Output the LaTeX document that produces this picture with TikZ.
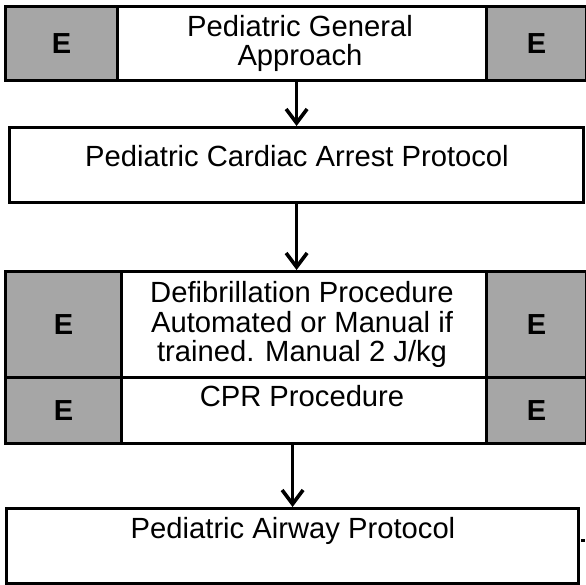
\documentclass[tikz,border=0pt]{standalone}
\usepackage{fontspec}
\setmainfont{Liberation Sans}
\usetikzlibrary{arrows.meta,positioning}
\definecolor{egray}{HTML}{A6A6A6}
\tikzset{
  cell/.style={draw, line width=3.2pt, inner sep=0pt, anchor=north west, fill=white},
  ecell/.style={cell, fill=egray, font=\bfseries\fontsize{29}{29}\selectfont},
  txt/.style={anchor=base, inner sep=0pt, font=\fontsize{29.2}{29}\selectfont},
  flow/.style={-{Straight Barb[length=14pt,width=21pt]}, line width=3.6pt}
}
\begin{document}
\begin{tikzpicture}[x=1pt, y=-1pt]
\useasboundingbox (0,0) rectangle (586,584);
% top row
\node[ecell, minimum width=112pt, minimum height=74pt] (e1l) at (4,5) {E};
\node[cell, minimum width=369pt, minimum height=74pt] (gen) at (116,5) {};
\node[ecell, minimum width=100pt, minimum height=74pt] (e1r) at (485,5) {E};
\node[txt] (gen1) at (300,36.7) {Pediatric General};
\node[txt] (gen2) at (300,65) {Approach};
% cardiac arrest
\node[cell, minimum width=574pt, minimum height=75pt] (arrest) at (8,126) {};
\node[txt] (arrestlbl) at (297,166.7) {Pediatric Cardiac Arrest Protocol};
% defibrillation / cpr block
\node[ecell, minimum width=116pt, minimum height=106pt] (e3l) at (4,270) {E};
\node[cell, minimum width=365pt, minimum height=106pt] (defib) at (120,270) {};
\node[ecell, minimum width=100pt, minimum height=106pt] (e3r) at (485,270) {E};
\node[ecell, minimum width=116pt, minimum height=66pt] (e4l) at (4,376) {E};
\node[cell, minimum width=365pt, minimum height=66pt] (cpr) at (120,376) {};
\node[ecell, minimum width=100pt, minimum height=66pt] (e4r) at (485,376) {E};
\node[txt] (defib1) at (302,302) {Defibrillation Procedure};
\node[txt] (defib2) at (302,332) {Automated or Manual if};
\node[txt] (defib3) at (302,361) {trained. Manual 2 J/kg};
\node[txt] (cprlbl) at (302,406) {CPR Procedure};
% airway
\node[cell, minimum width=572pt, minimum height=75pt] (airway) at (5,507) {};
\node[txt] (airwaylbl) at (293,538) {Pediatric Airway Protocol};
\fill (581,539) rectangle (585,542);
% arrows
\draw[flow] (arrest.north |- gen.south) -- (arrest.north);
\draw[flow] (arrest.south) -- (arrest.south |- defib.north);
\draw[flow] (airway.north |- cpr.south) -- (airway.north);
\end{tikzpicture}
\end{document}
